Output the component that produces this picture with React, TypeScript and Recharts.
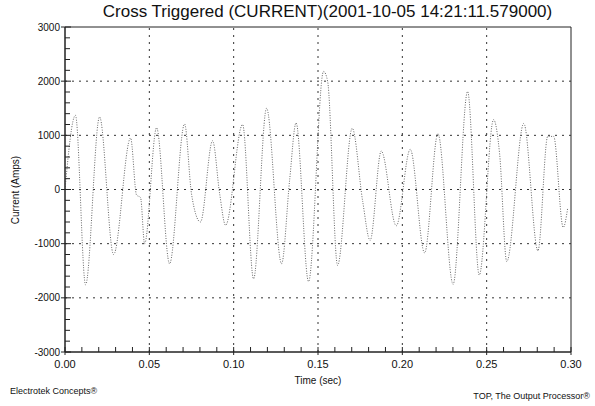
import { LineChart, Line, XAxis, YAxis, ReferenceLine, ReferenceArea } from "recharts";

// waveform turning points (sec / amps)
const timeSec = [
  0.0, 0.0062, 0.0122, 0.0205, 0.0288, 0.0389, 0.0424, 0.0448, 0.0472, 0.0543,
  0.062, 0.0709, 0.075, 0.0803, 0.0875, 0.0917, 0.0952, 0.1053, 0.1118, 0.1195,
  0.1284, 0.1332, 0.137, 0.1444, 0.1533, 0.1557, 0.1616, 0.1703, 0.1765, 0.1809,
  0.1875, 0.1964, 0.2047, 0.2132, 0.2211, 0.2301, 0.2387, 0.2456, 0.2541, 0.2577,
  0.2619, 0.272, 0.2804, 0.2862, 0.2897, 0.2954, 0.298,
];
const currentAmps = [
  0, 1370, -1760, 1340, -1200, 950, -100, -150, -1000, 1140,
  -1370, 1210, -80, -600, 900, -80, -660, 1200, -1650, 1500,
  -1370, 180, 1230, -1700, 2180, 2000, -1400, 1130, -220, -940,
  710, -670, 740, -1170, 1030, -1750, 1810, -1580, 1290, 650,
  -1330, 1220, -1130, 980, 980, -700, -350,
];

const xMajor = [0.05, 0.1, 0.15, 0.2, 0.25];
const yMajor = [2000, 1000, 0, -1000, -2000];
const xTicks = Array.from({ length: 31 }, (_, i) => +(i * 0.01).toFixed(2));
const yTicks = Array.from({ length: 31 }, (_, i) => -3000 + i * 200);

const data = timeSec.map((t, i) => ({ t, amps: currentAmps[i] }));

const font = "'Liberation Sans', Arial, sans-serif";

const YTick = (props: any) => {
  const { x, y, payload } = props;
  const major = payload.value % 1000 === 0;
  return (
    <g>
      <line x1={major ? x - 4 : x} x2={x + (major ? 6 : 5)} y1={y} y2={y} stroke="#222" />
      {major && (
        <text x={x - 5} y={y} textAnchor="end" dominantBaseline="central" fontSize={10} fontFamily={font} fill="#111">
          {payload.value}
        </text>
      )}
    </g>
  );
};

const XTick = (props: any) => {
  const { x, y, payload } = props;
  const major = Math.round(payload.value * 100) % 5 === 0;
  return (
    <g>
      <line x1={x} x2={x} y1={major ? y + 3 : y} y2={y - 5} stroke="#222" />
      {major && (
        <text x={x} y={y + 16} textAnchor="middle" fontSize={11} fontFamily={font} fill="#111">
          {payload.value.toFixed(2)}
        </text>
      )}
    </g>
  );
};

export default function App() {
  return (
    <div style={{ position: "absolute", left: 0, top: 0, width: 595, height: 406, background: "#fff", fontFamily: font }}>
      <div style={{ position: "absolute", left: 0, width: 655, top: 2, textAlign: "center", fontSize: 17, color: "#111" }}>
        Cross Triggered (CURRENT)(2001-10-05 14:21:11.579000)
      </div>
      <div
        style={{
          position: "absolute", left: 15, top: 190, fontSize: 10, color: "#111", whiteSpace: "nowrap",
          transform: "translate(-50%, -50%) rotate(-90deg)",
        }}
      >
        Current (Amps)
      </div>
      <LineChart width={595} height={406} data={data} margin={{ top: 27, right: 24, left: 5, bottom: 34 }}>
        <XAxis
          dataKey="t" type="number" domain={[0, 0.3]} ticks={xTicks} interval={0}
          tickSize={0} tickMargin={0} tickLine={false} tick={<XTick />} height={20}
          axisLine={{ stroke: "#222" }} allowDataOverflow
        />
        <YAxis
          type="number" domain={[-3000, 3000]} ticks={yTicks} interval={0}
          tickSize={0} tickMargin={0} tickLine={false} tick={<YTick />} width={60}
          axisLine={{ stroke: "#222" }} allowDataOverflow
        />
        {yMajor.map((v) => (
          <ReferenceLine key={"h" + v} y={v} stroke="#333" strokeDasharray="2 5" />
        ))}
        {xMajor.map((v) => (
          <ReferenceLine key={"v" + v} x={v} stroke="#333" strokeDasharray="2 5" />
        ))}
        <ReferenceArea x1={0} x2={0.3} y1={-3000} y2={3000} fill="none" stroke="#222" strokeWidth={1} />
        <Line
          dataKey="amps" type="monotone" stroke="#666" strokeWidth={1} strokeDasharray="1 1.5"
          dot={false} isAnimationActive={false}
        />
      </LineChart>
      <div style={{ position: "absolute", left: 0, width: 636, top: 375, textAlign: "center", fontSize: 10, color: "#111" }}>
        Time (sec)
      </div>
      <div style={{ position: "absolute", left: 10, top: 386, fontSize: 9, color: "#111" }}>Electrotek Concepts®</div>
      <div style={{ position: "absolute", right: 5, top: 391, fontSize: 9, color: "#111" }}>TOP, The Output Processor®</div>
    </div>
  );
}
